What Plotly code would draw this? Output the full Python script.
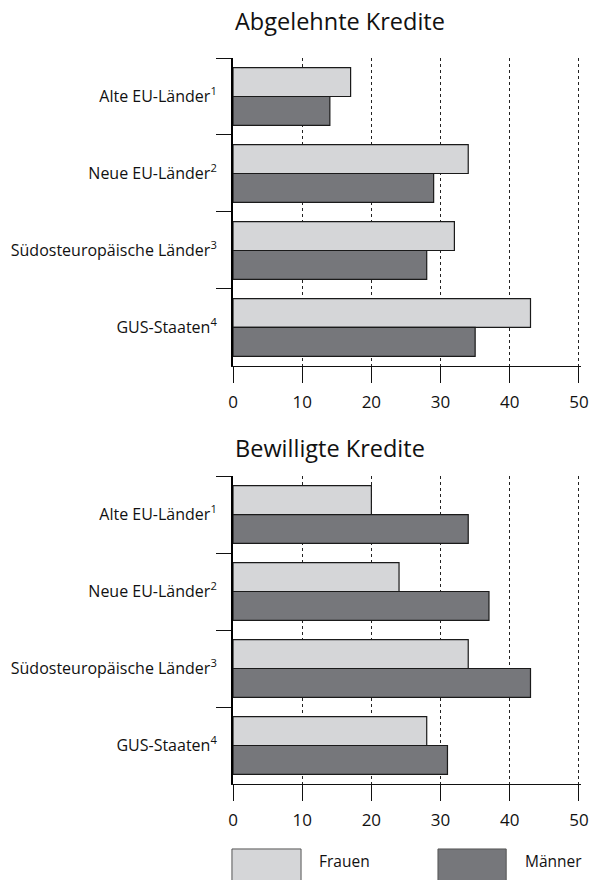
import plotly.graph_objects as go
from plotly.subplots import make_subplots

categories = ["Alte EU-Länder<sup>1</sup>", "Neue EU-Länder<sup>2</sup>",
              "Südosteuropäische Länder<sup>3</sup>", "GUS-Staaten<sup>4</sup>"]
abgelehnt_frauen = [17, 34, 32, 43]
abgelehnt_maenner = [14, 29, 28, 35]
bewilligt_frauen = [20, 24, 34, 28]
bewilligt_maenner = [34, 37, 43, 31]
x_ticks = [0, 10, 20, 30, 40, 50]
titles = ["Abgelehnte Kredite", "Bewilligte Kredite"]
series_names = ["Frauen", "Männer"]

C_F = "#d5d6d8"
C_M = "#76777b"
FONT = "Open Sans"

fig = make_subplots(rows=2, cols=1, vertical_spacing=0.1516)

panels = [(abgelehnt_frauen, abgelehnt_maenner), (bewilligt_frauen, bewilligt_maenner)]
for i, (fv, mv) in enumerate(panels, start=1):
    fig.add_trace(go.Bar(y=categories, x=fv, orientation="h", name=series_names[0],
                         marker=dict(color=C_F, line=dict(color="#1a1a1a", width=1.2)),
                         showlegend=False), row=i, col=1)
    fig.add_trace(go.Bar(y=categories, x=mv, orientation="h", name=series_names[1],
                         marker=dict(color=C_M, line=dict(color="#1a1a1a", width=1.2)),
                         showlegend=False), row=i, col=1)

fig.update_layout(
    width=595, height=880, autosize=False,
    margin=dict(l=233, r=14, t=58, b=96, autoexpand=False),
    paper_bgcolor="white", plot_bgcolor="white",
    barmode="group", bargap=0.25, bargroupgap=0,
    font=dict(family=FONT, size=16, color="#111"),
)

for i in (1, 2):
    fig.update_xaxes(row=i, col=1, range=[0, 50.3], tickvals=x_ticks,
                     automargin=False,
                     showgrid=True, gridcolor="#222", gridwidth=1, griddash="3px,3px",
                     zeroline=False, showline=True, linecolor="#111", linewidth=1,
                     ticks="outside", ticklen=16, tickcolor="#111", tickwidth=1,
                     ticklabelstandoff=5,
                     tickfont=dict(size=17, family=FONT, color="#111"))
    fig.update_yaxes(row=i, col=1, type="category", categoryorder="array",
                     categoryarray=categories, range=[3.5, -0.5], automargin=False,
                     tickson="boundaries", ticks="outside", ticklen=15,
                     tickcolor="#111", tickwidth=1, showgrid=False, zeroline=False,
                     showline=True, linecolor="#000", linewidth=2,
                     ticklabelstandoff=11,
                     tickfont=dict(size=16, family=FONT, color="#111"))

fig.update_yaxes(row=1, col=1, domain=[0.5758, 1])
fig.update_yaxes(row=2, col=1, domain=[0, 0.4242])

fig.add_annotation(text=titles[0], xref="paper", yref="paper", x=0, y=1.051,
                   xanchor="left", yanchor="middle", showarrow=False,
                   font=dict(size=23.5, family=FONT, color="#111"))
fig.add_annotation(text=titles[1], xref="paper", yref="paper", x=0, y=0.4628,
                   xanchor="left", yanchor="middle", showarrow=False,
                   font=dict(size=23.5, family=FONT, color="#111"))

# legend
for (x0, x1, col, tx, name) in [(-0.003, 0.1955, C_F, 0.2415, series_names[0]),
                                (0.589, 0.785, C_M, 0.833, series_names[1])]:
    fig.add_shape(type="rect", xref="paper", yref="paper", x0=x0, x1=x1,
                  y0=-0.0895, y1=-0.1405, fillcolor=col,
                  line=dict(color="#555", width=1))
    fig.add_annotation(text=name, xref="paper", yref="paper", x=tx, y=-0.106,
                       xanchor="left", yanchor="middle", showarrow=False,
                       font=dict(size=15.5, family=FONT, color="#111"))

fig.write_html("out.html", config={"displayModeBar": False, "responsive": False},
               post_script="document.body.style.margin='0px';")
